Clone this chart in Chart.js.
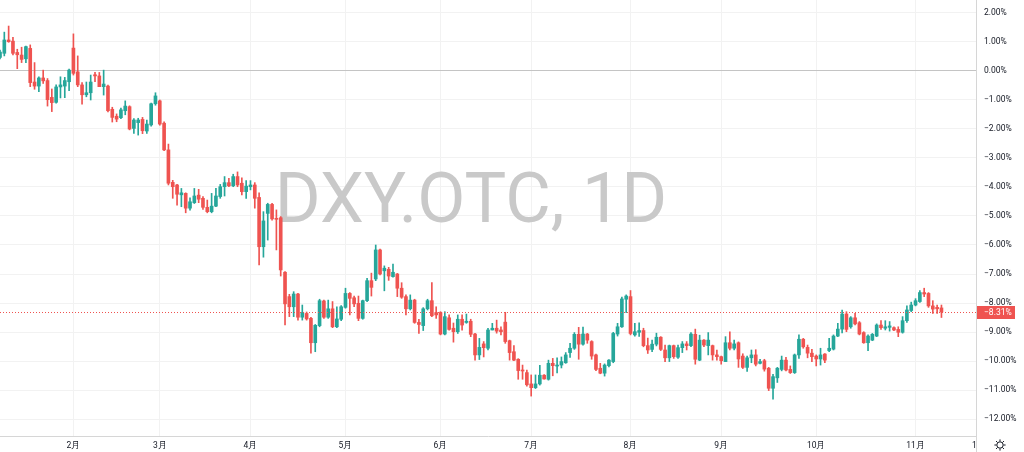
<!DOCTYPE html>
<html>
<head>
<meta charset="utf-8">
<script src="https://cdn.jsdelivr.net/npm/chart.js@4.4.1/dist/chart.umd.min.js"></script>
<style>
html,body{margin:0;padding:0;background:#fff;}
#wrap{width:1024px;height:452px;}
</style>
</head>
<body>
<div id="wrap"><canvas id="c" width="1024" height="452"></canvas></div>
<script>
// ---- data (percent change) ----
const opens = [0.47,0.61,1.07,1.03,0.64,0.55,0.42,0.78,-0.38,-0.52,-0.24,-0.33,-0.91,-1.08,-0.55,-0.52,-0.37,0.79,-0.03,-0.48,-0.82,-0.75,-0.13,-0.17,-0.54,-0.52,-1.32,-1.56,-1.61,-1.37,-1.23,-1.98,-1.78,-1.67,-2.07,-1.86,-1.13,-1.03,-1.80,-2.72,-3.84,-3.93,-4.27,-4.22,-4.73,-4.54,-4.28,-4.39,-4.70,-4.85,-4.66,-4.33,-3.99,-3.85,-3.96,-3.64,-3.87,-4.16,-3.99,-3.93,-4.36,-6.06,-4.91,-4.60,-5.08,-5.06,-6.94,-7.78,-8.13,-7.69,-8.49,-8.36,-8.53,-9.37,-8.78,-7.93,-8.49,-8.20,-8.82,-8.56,-8.15,-7.67,-7.82,-8.01,-8.53,-7.92,-7.23,-7.17,-6.17,-6.89,-6.84,-7.09,-7.00,-7.49,-7.78,-8.20,-7.90,-8.67,-8.78,-8.20,-7.92,-8.33,-8.33,-9.07,-8.51,-8.87,-8.99,-8.56,-8.67,-8.63,-9.07,-9.79,-9.41,-9.56,-8.93,-8.87,-8.93,-8.66,-9.30,-9.68,-9.94,-10.31,-10.40,-10.79,-10.92,-10.79,-10.49,-10.63,-10.08,-10.16,-10.14,-10.06,-9.71,-9.56,-9.08,-9.42,-9.07,-9.33,-9.79,-10.25,-10.42,-10.16,-10.02,-9.07,-8.82,-7.87,-7.78,-9.10,-9.01,-8.95,-9.47,-9.60,-9.42,-9.18,-9.62,-9.89,-9.47,-9.87,-9.54,-9.41,-9.47,-9.08,-9.97,-9.28,-9.47,-9.47,-9.79,-9.85,-10.02,-9.37,-9.56,-9.37,-9.83,-10.22,-9.89,-9.79,-10.08,-9.99,-10.25,-10.94,-10.58,-10.29,-9.97,-10.29,-10.40,-9.79,-9.25,-9.53,-9.73,-9.83,-9.93,-9.76,-9.64,-9.59,-9.14,-8.90,-8.38,-8.82,-8.51,-8.68,-9.02,-9.37,-9.28,-9.14,-8.76,-8.87,-8.84,-8.85,-8.91,-9.01,-8.61,-8.26,-8.07,-7.95,-7.64,-7.67,-8.10,-8.15,-8.17];
const highs = [0.72,1.34,1.55,1.16,0.75,0.82,0.86,0.90,0.29,-0.20,0.03,-0.26,-0.62,-0.48,-0.20,-0.22,0.07,1.28,0.52,-0.40,-0.38,-0.14,-0.05,-0.05,0.03,-0.49,-1.25,-1.48,-1.28,-1.03,-1.20,-1.64,-1.63,-1.60,-1.69,-1.11,-0.75,-1.00,-1.75,-2.52,-3.77,-3.91,-4.05,-4.20,-4.37,-4.05,-4.08,-4.33,-4.45,-4.22,-4.05,-3.91,-3.64,-3.70,-3.56,-3.48,-3.68,-3.78,-3.78,-3.85,-4.20,-4.85,-4.56,-4.56,-4.79,-5.02,-6.92,-7.70,-7.61,-7.67,-8.07,-8.31,-8.49,-8.74,-7.87,-7.90,-7.90,-7.95,-8.13,-8.09,-7.49,-7.64,-7.76,-7.76,-7.90,-7.15,-6.97,-6.00,-6.14,-6.72,-6.77,-6.66,-6.98,-7.30,-7.72,-7.72,-7.87,-8.56,-8.16,-7.87,-7.30,-8.13,-8.30,-8.30,-8.41,-8.69,-8.41,-8.41,-8.38,-8.56,-9.05,-9.22,-9.33,-8.87,-8.70,-8.59,-8.82,-8.32,-9.28,-9.47,-9.92,-10.14,-10.31,-10.48,-10.48,-10.15,-10.47,-9.97,-9.91,-9.89,-9.86,-9.71,-9.39,-9.02,-8.84,-8.83,-9.05,-9.30,-9.76,-10.08,-10.10,-9.95,-9.01,-8.70,-7.80,-7.72,-7.57,-8.70,-8.68,-8.87,-9.21,-9.28,-9.04,-9.16,-9.45,-9.45,-9.45,-9.45,-9.33,-9.33,-9.02,-8.90,-9.11,-9.26,-9.02,-9.45,-9.62,-9.83,-9.16,-8.99,-9.28,-9.34,-9.75,-9.83,-9.62,-9.61,-9.94,-9.94,-10.22,-10.46,-10.22,-9.83,-9.87,-10.17,-9.76,-9.10,-9.22,-9.45,-9.60,-9.79,-9.56,-9.74,-9.22,-9.10,-8.70,-8.24,-8.30,-8.47,-8.36,-8.64,-8.99,-9.10,-9.05,-8.72,-8.61,-8.61,-8.64,-8.82,-8.82,-8.47,-8.10,-7.97,-7.85,-7.57,-7.49,-7.64,-7.92,-8.07,-8.07];
const lows = [0.42,0.52,0.99,0.55,0.08,0.29,0.29,-0.54,-0.63,-0.71,-0.43,-1.21,-1.40,-1.11,-0.93,-0.92,-0.68,-0.14,-0.54,-1.14,-0.89,-1.00,-0.37,-0.54,-0.83,-1.41,-1.76,-1.75,-1.64,-1.51,-2.03,-2.15,-2.21,-2.16,-2.15,-1.90,-1.18,-1.87,-2.75,-3.93,-4.39,-4.63,-4.68,-4.89,-4.80,-4.57,-4.54,-4.77,-4.89,-4.89,-4.68,-4.39,-4.31,-3.99,-3.99,-3.99,-4.27,-4.39,-4.10,-4.73,-6.69,-6.42,-5.83,-5.14,-6.17,-7.07,-8.76,-8.47,-8.47,-8.59,-8.59,-8.59,-9.73,-9.68,-8.82,-8.53,-8.53,-8.85,-8.85,-8.61,-8.18,-8.41,-8.13,-8.61,-8.56,-7.95,-7.76,-7.23,-7.03,-7.58,-7.22,-7.11,-7.78,-7.84,-8.41,-8.24,-8.70,-9.05,-8.95,-8.24,-8.47,-8.53,-9.10,-9.10,-8.94,-9.35,-9.05,-8.94,-8.70,-9.16,-9.97,-9.95,-9.86,-9.62,-8.93,-9.04,-9.10,-9.39,-9.97,-9.99,-10.63,-10.63,-10.87,-11.21,-10.95,-10.83,-10.63,-10.66,-10.51,-10.41,-10.24,-10.08,-9.88,-9.60,-9.94,-9.45,-9.39,-9.94,-10.33,-10.44,-10.52,-10.20,-10.06,-9.14,-8.84,-8.33,-9.10,-9.14,-9.15,-9.51,-9.74,-9.68,-9.48,-9.64,-10.02,-10.02,-9.91,-9.91,-9.71,-9.62,-9.51,-10.11,-9.99,-9.51,-9.79,-9.97,-9.97,-10.11,-10.02,-9.62,-9.62,-10.22,-10.26,-10.36,-10.06,-10.17,-10.10,-10.35,-11.02,-11.32,-10.74,-10.34,-10.34,-10.43,-10.43,-9.91,-9.56,-9.89,-10.02,-10.17,-10.14,-10.06,-9.68,-9.62,-9.16,-9.03,-8.99,-8.87,-8.76,-9.10,-9.39,-9.64,-9.30,-9.16,-8.91,-8.93,-8.97,-8.95,-9.16,-9.04,-8.67,-8.30,-8.10,-7.98,-7.78,-8.15,-8.36,-8.36,-8.50];
const closes = [0.65,1.07,1.01,0.61,0.56,0.40,0.84,-0.40,-0.52,-0.24,-0.34,-0.99,-1.09,-0.55,-0.48,-0.33,0.03,-0.08,-0.48,-0.82,-0.75,-0.38,-0.17,-0.54,-0.45,-1.37,-1.60,-1.66,-1.34,-1.21,-2.00,-1.69,-1.69,-2.06,-1.83,-1.13,-0.86,-1.83,-2.72,-3.87,-3.99,-4.25,-4.20,-4.73,-4.51,-4.31,-4.42,-4.70,-4.85,-4.66,-4.31,-3.99,-3.85,-3.96,-3.64,-3.93,-4.16,-3.97,-3.93,-4.39,-6.06,-5.17,-4.60,-5.10,-5.11,-6.86,-8.03,-8.13,-7.69,-8.49,-8.33,-8.55,-9.37,-8.77,-7.92,-8.49,-8.20,-8.82,-8.55,-8.13,-7.67,-7.84,-8.03,-8.53,-7.92,-7.23,-7.46,-6.17,-7.00,-6.80,-7.07,-6.94,-7.49,-7.80,-8.20,-7.90,-8.67,-8.74,-8.20,-7.92,-8.44,-8.41,-9.07,-8.47,-8.91,-8.99,-8.56,-8.76,-8.63,-9.08,-9.79,-9.53,-9.54,-8.93,-8.87,-8.97,-8.99,-9.33,-9.71,-9.97,-10.33,-10.34,-10.82,-10.92,-10.79,-10.49,-10.62,-10.08,-10.16,-10.14,-10.02,-9.79,-9.56,-9.08,-9.42,-9.07,-9.28,-9.83,-10.29,-10.42,-10.14,-9.97,-9.05,-8.82,-7.86,-7.76,-9.05,-8.99,-8.95,-9.47,-9.62,-9.42,-9.18,-9.60,-9.89,-9.47,-9.85,-9.54,-9.41,-9.47,-9.07,-9.94,-9.28,-9.45,-9.28,-9.79,-9.85,-9.99,-9.37,-9.56,-9.41,-9.93,-10.22,-9.89,-9.79,-10.11,-10.02,-10.28,-10.94,-10.54,-10.25,-9.97,-10.31,-10.40,-9.79,-9.25,-9.51,-9.73,-9.85,-9.93,-9.79,-9.97,-9.56,-9.14,-8.90,-8.38,-8.91,-8.51,-8.72,-9.07,-9.37,-9.14,-9.08,-8.76,-8.85,-8.82,-8.79,-8.93,-9.01,-8.61,-8.24,-8.07,-7.92,-7.64,-7.69,-8.10,-8.21,-8.20,-8.31];
const monthLabels = ['2月','3月','4月','5月','6月','7月','8月','9月','10月','11月','12月'];
const monthStartIdx = [17,37,58,80,102,123,146,167,189,212,227.2];
const yTickValues = [2,1,0,-1,-2,-3,-4,-5,-6,-7,-8,-9,-10,-11,-12];
const symbolTitle = 'DXY.OTC, 1D';
const lastValue = -8.31;

// ---- styles ----
const UP = '#26a69a', DOWN = '#ef5350';
const X_MAX = 226;
const colors = opens.map((o,i)=> closes[i] >= o ? UP : DOWN);
const bodyData = opens.map((o,i)=>({x:i, y:[o, closes[i]]}));
const wickData = lows.map((l,i)=>({x:i, y:[l, highs[i]]}));
const fmt = v => (v < 0 ? '\u2212' : '') + Math.abs(v).toFixed(2) + '%';

const overlay = {
  id:'overlay',
  beforeDatasetsDraw(chart){
    const {ctx, chartArea:a} = chart;
    ctx.save();
    ctx.beginPath(); ctx.rect(a.left,a.top,a.right-a.left,a.bottom-a.top); ctx.clip();
    ctx.fillStyle = '#c9c9c9';
    ctx.font = '70px Roboto';
    ctx.textAlign = 'center';
    ctx.textBaseline = 'alphabetic';
    ctx.fillText(symbolTitle, 471, 222);
    ctx.restore();
  },
  afterDatasetsDraw(chart){
    const {ctx, chartArea:a, scales:{y}} = chart;
    const py = Math.round(y.getPixelForValue(lastValue)) + 0.5;
    ctx.save();
    ctx.strokeStyle = DOWN; ctx.lineWidth = 1; ctx.setLineDash([1,2]);
    ctx.beginPath(); ctx.moveTo(a.left, py); ctx.lineTo(a.right, py); ctx.stroke();
    ctx.restore();
  },
  afterDraw(chart){
    const {ctx, chartArea:a, scales:{y}, width, height} = chart;
    ctx.save();
    // price-scale corner hides the overflowing time label
    ctx.fillStyle = '#fff';
    ctx.fillRect(a.right+1, a.bottom+1, width-a.right, height-a.bottom);
    ctx.strokeStyle = '#d6d6d6'; ctx.lineWidth = 1;
    ctx.beginPath(); ctx.moveTo(Math.round(a.right)+0.5, a.bottom); ctx.lineTo(Math.round(a.right)+0.5, height); ctx.stroke();
    // gear icon
    const cx = 1000, cy = 445;
    ctx.strokeStyle = '#131722'; ctx.lineWidth = 1;
    ctx.beginPath(); ctx.arc(cx, cy, 3.2, 0, Math.PI*2); ctx.stroke();
    for (let k=0;k<8;k++){
      const ang = k*Math.PI/4;
      ctx.beginPath();
      ctx.moveTo(cx+Math.cos(ang)*3.6, cy+Math.sin(ang)*3.6);
      ctx.lineTo(cx+Math.cos(ang)*5.6, cy+Math.sin(ang)*5.6);
      ctx.stroke();
    }
    // last value label
    const py = y.getPixelForValue(lastValue);
    ctx.fillStyle = DOWN;
    ctx.fillRect(a.right+1, Math.round(py)-6, 38, 13);
    ctx.fillStyle = '#fff';
    ctx.font = '8.5px Roboto';
    ctx.textAlign = 'left'; ctx.textBaseline = 'middle';
    ctx.fillText(fmt(lastValue), a.right+8, Math.round(py)+0.5);
    ctx.restore();
  }
};

const noPad = s => { s.paddingTop = 0; s.paddingBottom = 0; s.paddingLeft = 0; s.paddingRight = 0; };

new Chart(document.getElementById('c'), {
  type:'bar',
  data:{
    datasets:[
      {data:bodyData, backgroundColor:colors, barThickness:3, minBarLength:1, grouped:false, borderWidth:0},
      {data:wickData, backgroundColor:colors, barThickness:1, grouped:false, borderWidth:0}
    ]
  },
  options:{
    responsive:false, animation:false,
    layout:{padding:0},
    plugins:{legend:{display:false}, tooltip:{enabled:false}},
    scales:{
      x:{
        type:'linear', min:0, max:X_MAX, offset:false,
        grid:{color:c=> (c.tick && c.tick.value > X_MAX) ? 'rgba(0,0,0,0)' : '#f2f2f2', drawTicks:false, offset:false},
        border:{color:'#d6d6d6'},
        ticks:{autoSkip:false, maxRotation:0, padding:5, color:'#131722', font:{family:'Roboto', size:8.5},
          callback:(v)=>{ const k = monthStartIdx.indexOf(v); return k>=0 ? monthLabels[k] : ''; }},
        afterBuildTicks:s=>{ s.ticks = monthStartIdx.map(v=>({value:v})); },
        afterFit:s=>{ s.height = 16; noPad(s); }
      },
      y:{
        position:'right', min:-12.586, max:2.448,
        grid:{color:c=> (c.tick && c.tick.value===0) ? '#c4c4c4' : '#f2f2f2', drawTicks:false},
        border:{color:'#d6d6d6'},
        ticks:{padding:8, color:'#131722', font:{family:'Roboto', size:8.5}, callback:v=>fmt(v)},
        afterBuildTicks:s=>{ s.ticks = yTickValues.map(v=>({value:v})); },
        afterFit:s=>{ s.width = 48; noPad(s); }
      }
    }
  },
  plugins:[overlay]
});
</script>
</body>
</html>
